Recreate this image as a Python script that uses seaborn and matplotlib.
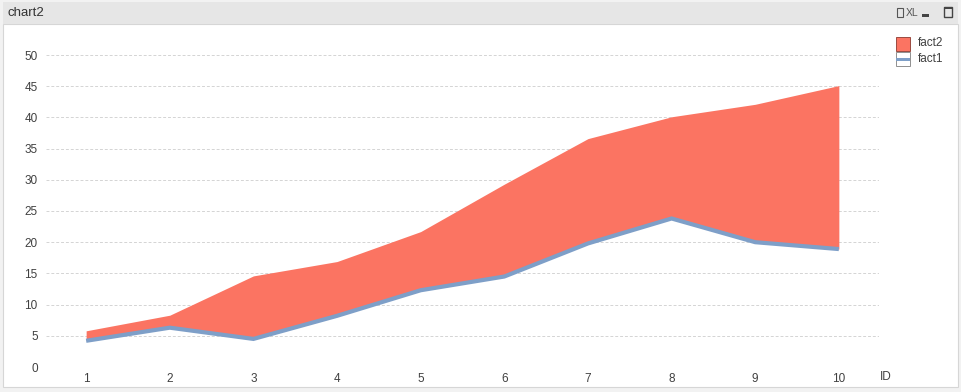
import matplotlib
matplotlib.use("Agg")
import matplotlib.pyplot as plt
import matplotlib.patches as mpatches
import seaborn as sns
import numpy as np
import pandas as pd

# ---- data ----
ids = [1, 2, 3, 4, 5, 6, 7, 8, 9, 10]
fact1 = [4.2, 6.3, 4.5, 8.2, 12.3, 14.5, 19.8, 23.8, 20.0, 18.9]
fact2 = [1.6, 2.0, 10.1, 8.7, 9.4, 14.8, 16.8, 16.3, 22.1, 26.2]
y_ticks = [0, 5, 10, 15, 20, 25, 30, 35, 40, 45, 50]
title = "chart2"
x_title = "ID"
legend_labels = ["fact2", "fact1"]

RED = "#FB7462"
BLUE = "#7E9FC8"
TXT = "#404040"

sns.set_style("white")
plt.rcParams["font.family"] = ["Liberation Sans", "DejaVu Sans"]

W, H = 961, 392
fig = plt.figure(figsize=(W / 100, H / 100), dpi=100)
fig.patch.set_facecolor("#f2f2f2")

def px_rect(x0, y0, x1, y1, z=-1, **kw):
    fig.patches.append(mpatches.Rectangle((x0 / W, 1 - y1 / H), (x1 - x0) / W, (y1 - y0) / H,
                                          transform=fig.transFigure, figure=fig, zorder=z, **kw))

# window frame
px_rect(3, 24, 958, 387, facecolor="white", edgecolor="#d6d6d6", linewidth=0.8)
px_rect(3, 2, 958, 24, facecolor="#e6e6e6", edgecolor="none")
fig.text(8 / W, 1 - 13 / H, title, fontsize=9.5, color="#333333", va="center", ha="left")
# window icons
fig.text(906 / W, 1 - 13 / H, "XL", fontsize=7.5, color="#555555", va="center", ha="left")
px_rect(897, 8, 903, 17, facecolor="none", edgecolor="#555555", linewidth=0.8)
px_rect(922, 14, 929, 17, facecolor="#444444", edgecolor="none")
px_rect(944, 7, 952, 17, facecolor="none", edgecolor="#444444", linewidth=1.0)
px_rect(944, 7, 952, 9, facecolor="#444444", edgecolor="none")

ax = fig.add_axes([46 / W, 1 - 367 / H, (879 - 46) / W, (367 - 55) / H])
ax.set_facecolor("none")
ax.set_zorder(2)

df = pd.DataFrame({"ID": ids, "fact1": fact1, "fact2": fact2})
df["top"] = df["fact1"] + df["fact2"]

ax.fill_between(df["ID"], df["fact1"], df["top"], color=RED, linewidth=0, zorder=2)
sns.lineplot(data=df, x="ID", y="fact1", ax=ax, color=BLUE, linewidth=3.0, zorder=3,
             solid_joinstyle="miter", solid_capstyle="butt")

ax.set_xlim(0.52, 10.48)
ax.set_ylim(0, 50)
ax.set_xticks(ids)
ax.set_yticks(y_ticks)
ax.set_xticklabels([str(i) for i in ids], fontsize=8.5, color=TXT)
ax.set_yticklabels([str(v) for v in y_ticks], fontsize=8.5, color=TXT)
ax.tick_params(axis="both", length=0)
ax.tick_params(axis="y", pad=6)
ax.tick_params(axis="x", pad=4)
ax.grid(axis="y", color="#d4d4d4", linestyle=(0, (3, 2)), linewidth=0.7, zorder=0)
ax.set_axisbelow(True)
for s in ax.spines.values():
    s.set_visible(False)
ax.set_xlabel("")
ax.set_ylabel("")
fig.text(880 / W, 1 - 377 / H, x_title, fontsize=8.5, color=TXT, va="center", ha="left")

# legend
px_rect(896, 37, 910, 51, z=3, facecolor=RED, edgecolor="#9a4a40", linewidth=0.7)
px_rect(896, 52, 910, 66, z=3, facecolor="white", edgecolor="#909090", linewidth=0.7)
px_rect(896, 58, 910, 60.5, z=4, facecolor=BLUE, edgecolor="none")
fig.text(918 / W, 1 - 43 / H, legend_labels[0], fontsize=8.5, color=TXT, va="center", ha="left")
fig.text(918 / W, 1 - 59 / H, legend_labels[1], fontsize=8.5, color=TXT, va="center", ha="left")

fig.savefig("out.png", dpi=100, facecolor=fig.get_facecolor())
